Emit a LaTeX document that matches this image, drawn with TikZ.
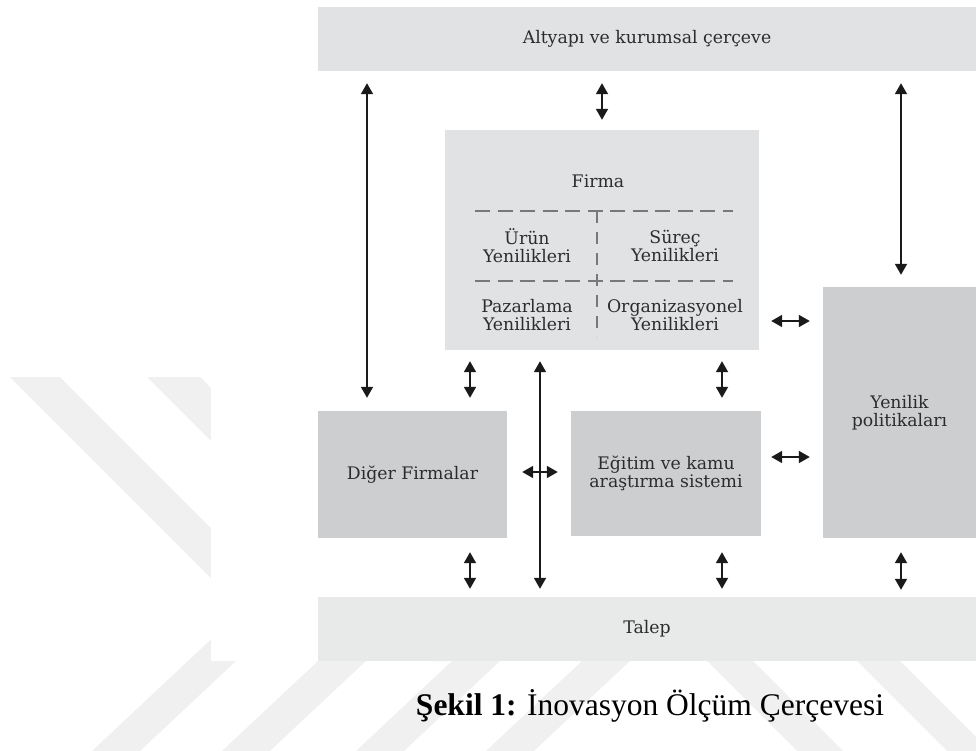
\documentclass[tikz,border=0pt]{standalone}
\usepackage{fontspec}
\setmainfont{DejaVu Serif}
\newfontfamily\capfont{Liberation Serif}
\usetikzlibrary{arrows.meta}
\definecolor{barlight}{HTML}{E1E2E4}
\definecolor{bardark}{HTML}{CDCED0}
\definecolor{barbottom}{HTML}{E8E9E9}
\definecolor{txt}{HTML}{2C2C2C}
\definecolor{wm}{HTML}{F0F0F0}
\definecolor{dashgray}{HTML}{787878}
\definecolor{arrowc}{HTML}{1A1A1A}
\begin{document}
\begin{tikzpicture}[x=1pt,y=-1pt,
  lightbox/.style={fill=barlight, draw=none, inner sep=0pt, text=txt, align=center, font=\fontsize{17.3}{18}\selectfont},
  darkbox/.style={fill=bardark, draw=none, inner sep=0pt, text=txt, align=center, font=\fontsize{17.3}{18.5}\selectfont},
  bottombox/.style={fill=barbottom, draw=none, inner sep=0pt, text=txt, align=center, font=\fontsize{17.3}{18}\selectfont},
  lbl/.style={inner sep=0pt, text=txt, align=center, font=\fontsize{17.3}{18}\selectfont},
  dashline/.style={draw=dashgray, line width=2.8pt, dash pattern=on 15pt off 7.5pt},
  vdashline/.style={draw=dashgray, line width=2.2pt, dash pattern=on 12pt off 9pt},
  dbl/.style={draw=arrowc, line width=1.8pt, {Triangle[length=11pt,width=12pt]}-{Triangle[length=11pt,width=12pt]}},
  wmark/.style={fill=wm, draw=none}]
\useasboundingbox (0,0) rectangle (976,751);

% watermark bands
\fill[wmark] (10,377) -- (60,377) -- (344,661) -- (294,661) -- cycle;
\fill[wmark] (147,377) -- (200,377) -- (484,661) -- (431,661) -- cycle;
\foreach \t in {188,318,452,582} {
  \fill[wmark] (\t+65,600) -- (\t+113,600) -- (\t-48,751) -- (\t-96,751) -- cycle;
}
\fill[wmark] (707,661) -- (753,661) -- (843,751) -- (797,751) -- cycle;
\fill[wmark] (857,661) -- (900,661) -- (990,751) -- (947,751) -- cycle;
\fill[white] (211,0) rectangle (976,661);

% boxes
\node[lightbox, minimum width=658pt, minimum height=64pt] (top) at (647,39) {Altyapı ve kurumsal çerçeve};
\node[lightbox, minimum width=314pt, minimum height=220pt] (firma) at (602,240) {};
\node[darkbox, minimum width=189pt, minimum height=127pt] (diger) at (412.5,474.5) {Diğer Firmalar};
\node[darkbox, minimum width=190pt, minimum height=125pt] (egitim) at (666,473.5) {Eğitim ve kamu\\araştırma sistemi};
\node[darkbox, minimum width=153pt, minimum height=251pt] (yenilik) at (899.5,412.5) {Yenilik\\politikaları};
\node[bottombox, minimum width=658pt, minimum height=64pt] (talep) at (647,629) {Talep};

% firma interior
\node[lbl] (firmalbl) at (598,181) {Firma};
\draw[dashline] (475,211) -- (733,211);
\draw[dashline] (475,281) -- (733,281);
\draw[vdashline] (597,211) -- (597,337);
\node[lbl] (urun) at (527,246) {Ürün\\Yenilikleri};
\node[lbl] (surec) at (675,246) {Süreç\\Yenilikleri};
\node[lbl] (pazar) at (527,315) {Pazarlama\\Yenilikleri};
\node[lbl] (organ) at (675,315) {Organizasyonel\\Yenilikleri};

% connector columns and rows
\coordinate (cA) at (367,0);
\coordinate (cB) at (470,0);
\coordinate (cC) at (540,0);
\coordinate (cD) at (602,0);
\coordinate (cE) at (722,0);
\coordinate (cF) at (901,0);
\coordinate (rA) at (0,321);
\coordinate (rB) at (0,457);
\coordinate (rC) at (0,472);

% connectors
\draw[dbl, shorten <=12pt, shorten >=13pt] (top.south -| cA) -- (diger.north -| cA);
\draw[dbl, shorten <=12pt, shorten >=10pt] (top.south -| cD) -- (firma.north -| cD);
\draw[dbl, shorten <=12pt, shorten >=12pt] (top.south -| cF) -- (yenilik.north -| cF);
\draw[dbl, shorten <=11pt, shorten >=13pt] (firma.south -| cB) -- (diger.north -| cB);
\draw[dbl, shorten <=11pt, shorten >=8pt] (firma.south -| cC) -- (talep.north -| cC);
\draw[dbl, shorten <=11pt, shorten >=13pt] (firma.south -| cE) -- (egitim.north -| cE);
\draw[dbl, shorten <=12pt, shorten >=13pt] (firma.east |- rA) -- (yenilik.west |- rA);
\draw[dbl, shorten <=10pt, shorten >=13pt] (egitim.east |- rB) -- (yenilik.west |- rB);
\draw[dbl, shorten <=15pt, shorten >=13pt] (diger.east |- rC) -- (egitim.west |- rC);
\draw[dbl, shorten <=14pt, shorten >=8pt] (diger.south -| cB) -- (talep.north -| cB);
\draw[dbl, shorten <=16pt, shorten >=8pt] (egitim.south -| cE) -- (talep.north -| cE);
\draw[dbl, shorten <=14pt, shorten >=7pt] (yenilik.south -| cF) -- (talep.north -| cF);

% caption
\node[anchor=base, inner sep=0pt, text=black, font=\capfont\fontsize{31.5}{36}\selectfont] (cap) at (650,715) {\textbf{Şekil 1:} İnovasyon Ölçüm Çerçevesi};
\end{tikzpicture}
\end{document}
